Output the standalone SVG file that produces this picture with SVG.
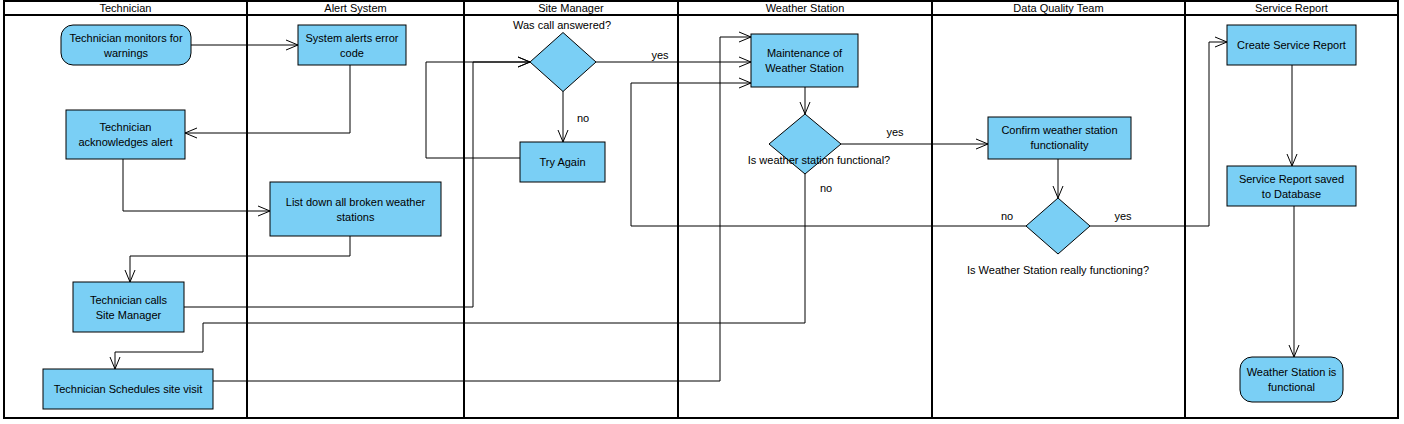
<svg xmlns="http://www.w3.org/2000/svg" width="1404" height="424" viewBox="0 0 1404 424">
<style>
text{font-family:"Liberation Sans",Arial,sans-serif;font-size:11px;fill:#000;text-anchor:middle}
.node{fill:#7ACFF5;stroke:#000;stroke-width:1}
.lane{fill:none;stroke:#000;stroke-width:2}
.conn{fill:none;stroke:#000;stroke-width:1;marker-end:url(#arr)}
.lbl{text-anchor:middle}
</style>
<defs>
<marker id="arr" markerUnits="userSpaceOnUse" viewBox="-13 -6 14 12" refX="0" refY="0" markerWidth="14" markerHeight="12" orient="auto">
<path d="M-12,-5 L0,0 L-12,5" fill="none" stroke="#000" stroke-width="1"/>
</marker>
</defs>
<rect width="1404" height="424" fill="#fff"/>
<g id="swimlanes">
<rect class="lane" x="4" y="1" width="1394" height="417"/>
<line class="lane" x1="4" y1="15" x2="1398" y2="15"/>
<line class="lane" x1="247" y1="1" x2="247" y2="418"/>
<line class="lane" x1="464" y1="1" x2="464" y2="418"/>
<line class="lane" x1="678" y1="1" x2="678" y2="418"/>
<line class="lane" x1="932" y1="1" x2="932" y2="418"/>
<line class="lane" x1="1185" y1="1" x2="1185" y2="418"/>
<text x="125.5" y="12">Technician</text>
<text x="355.5" y="12">Alert System</text>
<text x="571" y="12">Site Manager</text>
<text x="805" y="12">Weather Station</text>
<text x="1058.5" y="12">Data Quality Team</text>
<text x="1291.5" y="12">Service Report</text>
</g>
<g id="connectors">
<path class="conn" d="M191,45 H298"/>
<path class="conn" d="M350,65 V133 H185"/>
<path class="conn" d="M123,159 V211 H270"/>
<path class="conn" d="M350,236 V256 H130 V282"/>
<path class="conn" d="M184,307 H473 V62 H530"/>
<path class="conn" d="M520,158 H426 V62 H530"/>
<path class="conn" d="M596,62 H751"/>
<text x="660" y="59">yes</text>
<path class="conn" d="M563,91 V142"/>
<text x="583" y="122">no</text>
<path class="conn" d="M213,381 H720 V37 H751"/>
<path class="conn" d="M1027,226 H631 V83 H751"/>
<text x="1007" y="220">no</text>
<path class="conn" d="M805,87 V114"/>
<path class="conn" d="M841,144 H988"/>
<text x="895" y="136">yes</text>
<path class="conn" d="M805,174 V323 H203 V352 H115 V369"/>
<text x="826" y="192">no</text>
<path class="conn" d="M1058,159 V198"/>
<path class="conn" d="M1090,226 H1209 V42 H1227"/>
<text x="1123" y="220">yes</text>
<path class="conn" d="M1292,65 V166"/>
<path class="conn" d="M1294,206 V357"/>
</g>
<g id="n1">
<rect class="node" x="61" y="25" width="130" height="40" rx="12"/>
<text x="126" y="42">Technician monitors for</text>
<text x="126" y="57">warnings</text>
</g>
<g id="n2">
<rect class="node" x="298" y="25" width="108" height="40"/>
<text x="352" y="42">System alerts error</text>
<text x="352" y="57">code</text>
</g>
<g id="n3">
<rect class="node" x="66" y="110" width="119" height="49"/>
<text x="125.5" y="131">Technician</text>
<text x="125.5" y="146">acknowledges alert</text>
</g>
<g id="n4">
<rect class="node" x="270" y="182" width="171" height="54"/>
<text x="355.5" y="206">List down all broken weather</text>
<text x="355.5" y="221">stations</text>
</g>
<g id="n5">
<rect class="node" x="73" y="282" width="111" height="50"/>
<text x="128.5" y="304">Technician calls</text>
<text x="128.5" y="319">Site Manager</text>
</g>
<g id="n6">
<rect class="node" x="43" y="369" width="170" height="40"/>
<text x="128" y="393">Technician Schedules site visit</text>
</g>
<g id="d1">
<polygon class="node" points="563,32.5 596,62 563,91.5 530,62"/>
<text x="562" y="29">Was call answered?</text>
</g>
<g id="n7">
<rect class="node" x="520" y="142" width="85" height="40"/>
<text x="562.5" y="166">Try Again</text>
</g>
<g id="n8">
<rect class="node" x="751" y="34" width="107" height="53"/>
<text x="804.5" y="57">Maintenance of</text>
<text x="804.5" y="72">Weather Station</text>
</g>
<g id="d2">
<polygon class="node" points="805,114 841,144 805,174 769,144"/>
<text x="819" y="164">Is weather station functional?</text>
</g>
<g id="n9">
<rect class="node" x="988" y="117" width="143" height="42"/>
<text x="1059.5" y="134">Confirm weather station</text>
<text x="1059.5" y="149">functionality</text>
</g>
<g id="d3">
<polygon class="node" points="1058,198 1090,226 1058,254 1026,226"/>
<text x="1058" y="274">Is Weather Station really functioning?</text>
</g>
<g id="n10">
<rect class="node" x="1227" y="25" width="129" height="40"/>
<text x="1291.5" y="49">Create Service Report</text>
</g>
<g id="n11">
<rect class="node" x="1227" y="166" width="129" height="40"/>
<text x="1291.5" y="183">Service Report saved</text>
<text x="1291.5" y="198">to Database</text>
</g>
<g id="n12">
<rect class="node" x="1240" y="357" width="103" height="45" rx="12"/>
<text x="1291.5" y="376">Weather Station is</text>
<text x="1291.5" y="391">functional</text>
</g>
</svg>
